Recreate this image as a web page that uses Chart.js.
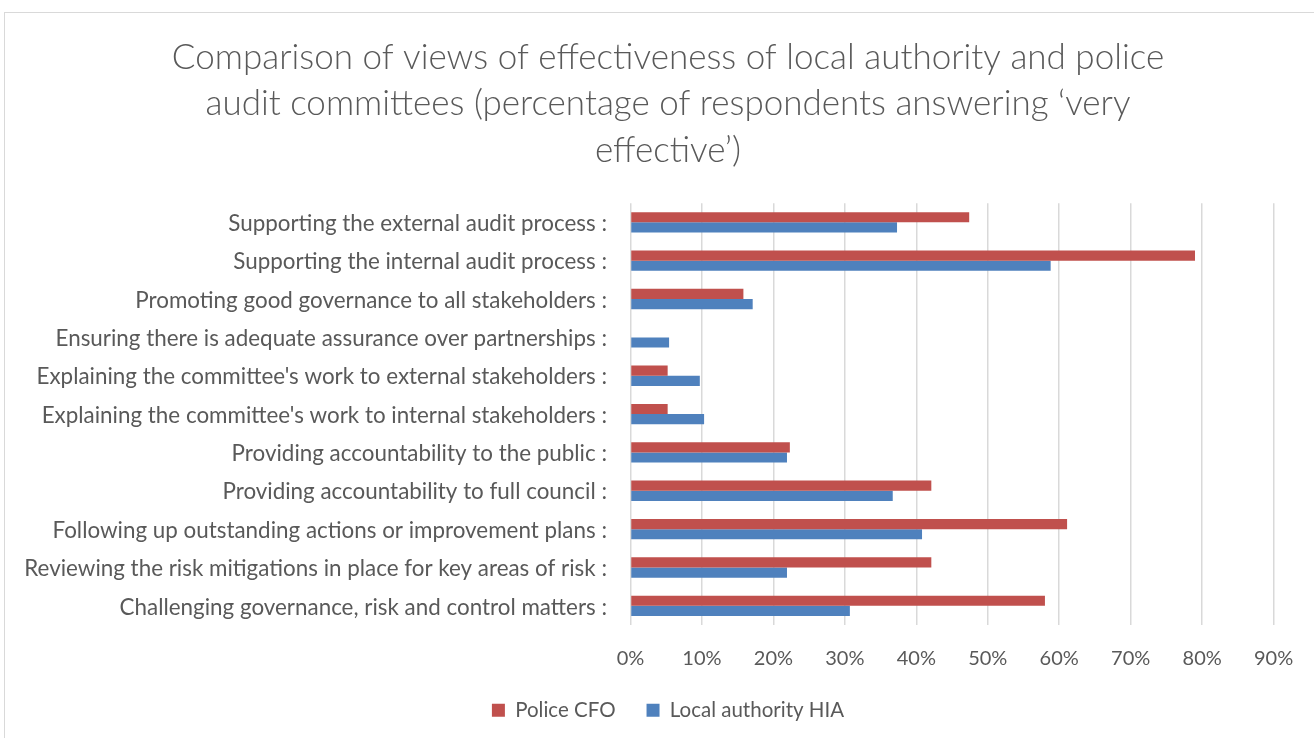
<!DOCTYPE html>
<html>
<head>
<meta charset="utf-8">
<title>Audit committee effectiveness</title>
<script src="https://cdn.jsdelivr.net/npm/chart.js@4.4.1/dist/chart.umd.min.js"></script>
<style>
    html, body { margin: 0; padding: 0; background: #fff; overflow: hidden; }
    #frame { position: absolute; left: 4px; top: 12px; width: 1326px; height: 740px; border: 1px solid #d9d9d9; }
    #frame canvas { display: block; }
</style>
</head>
<body>
<div id="frame"><canvas id="chart" width="1326" height="740"></canvas></div>
<script>
// Survey areas, top to bottom
const categories = [
    'Supporting the external audit process :',
    'Supporting the internal audit process :',
    'Promoting good governance to all stakeholders :',
    'Ensuring there is adequate assurance over partnerships :',
    "Explaining the committee's work to external stakeholders :",
    "Explaining the committee's work to internal stakeholders :",
    'Providing accountability to the public :',
    'Providing accountability to full council :',
    'Following up outstanding actions or improvement plans :',
    'Reviewing the risk mitigations in place for key areas of risk :',
    'Challenging governance, risk and control matters :'
];

// % answering 'very effective'
const policeCfo = [47.4, 79.0, 15.8, 0, 5.2, 5.2, 22.3, 42.1, 61.1, 42.1, 58.0];
const localAuthorityHia = [37.3, 58.8, 17.1, 5.4, 9.7, 10.3, 21.9, 36.7, 40.8, 21.9, 30.7];

const xTicks = [0, 10, 20, 30, 40, 50, 60, 70, 80, 90];

const titleLines = [
    'Comparison of views of effectiveness of local authority and police',
    'audit committees (percentage of respondents answering \u2018very',
    'effective\u2019)'
];

const FONT = 'Lato, "Open Sans", sans-serif';
const TEXT_COLOR = '#595959';

new Chart(document.getElementById('chart'), {
    type: 'bar',
    data: {
        labels: categories,
        datasets: [
            {
                label: 'Police CFO',
                data: policeCfo,
                backgroundColor: '#c0504d',
                categoryPercentage: 0.53,
                barPercentage: 1
            },
            {
                label: 'Local authority HIA',
                data: localAuthorityHia,
                backgroundColor: '#4f81bd',
                categoryPercentage: 0.53,
                barPercentage: 1
            }
        ]
    },
    options: {
        indexAxis: 'y',
        responsive: false,
        animation: false,
        layout: {
            padding: { left: 0, right: 0, top: 0, bottom: 22.5 }
        },
        plugins: {
            title: {
                display: true,
                text: titleLines,
                color: TEXT_COLOR,
                font: { family: FONT, size: 35, weight: 300, lineHeight: 1.33 },
                padding: { top: 21, bottom: 29.5 }
            },
            legend: {
                position: 'bottom',
                labels: {
                    color: TEXT_COLOR,
                    font: { family: FONT, size: 20.5 },
                    boxWidth: 13,
                    boxHeight: 13,
                    padding: 31
                }
            },
            tooltip: { enabled: false }
        },
        scales: {
            x: {
                min: 0,
                max: 90,
                afterBuildTicks: (scale) => {
                    scale.ticks = xTicks.map(v => ({ value: v }));
                },
                afterFit: (scale) => {
                    scale.height = 44;
                },
                ticks: {
                    color: TEXT_COLOR,
                    font: { family: FONT, size: 20 },
                    padding: 22,
                    maxRotation: 0,
                    callback: (value) => value + '%'
                },
                grid: {
                    color: '#d9d9d9',
                    lineWidth: 1.5,
                    drawTicks: false
                },
                border: { display: false }
            },
            y: {
                afterFit: (scale) => {
                    scale.width = 625.5;
                },
                ticks: {
                    color: TEXT_COLOR,
                    font: { family: FONT, size: 22.4 },
                    padding: 23.5,
                    labelOffset: 1.5,
                    autoSkip: false
                },
                grid: { display: false, drawTicks: false },
                border: { display: false }
            },
            // empty strip on the right so the plot stops short of the frame
            yRight: {
                type: 'linear',
                position: 'right',
                afterFit: (scale) => {
                    scale.width = 57.4;
                },
                ticks: { display: false },
                grid: { display: false, drawTicks: false },
                border: { display: false }
            }
        }
    }
});
</script>
</body>
</html>
